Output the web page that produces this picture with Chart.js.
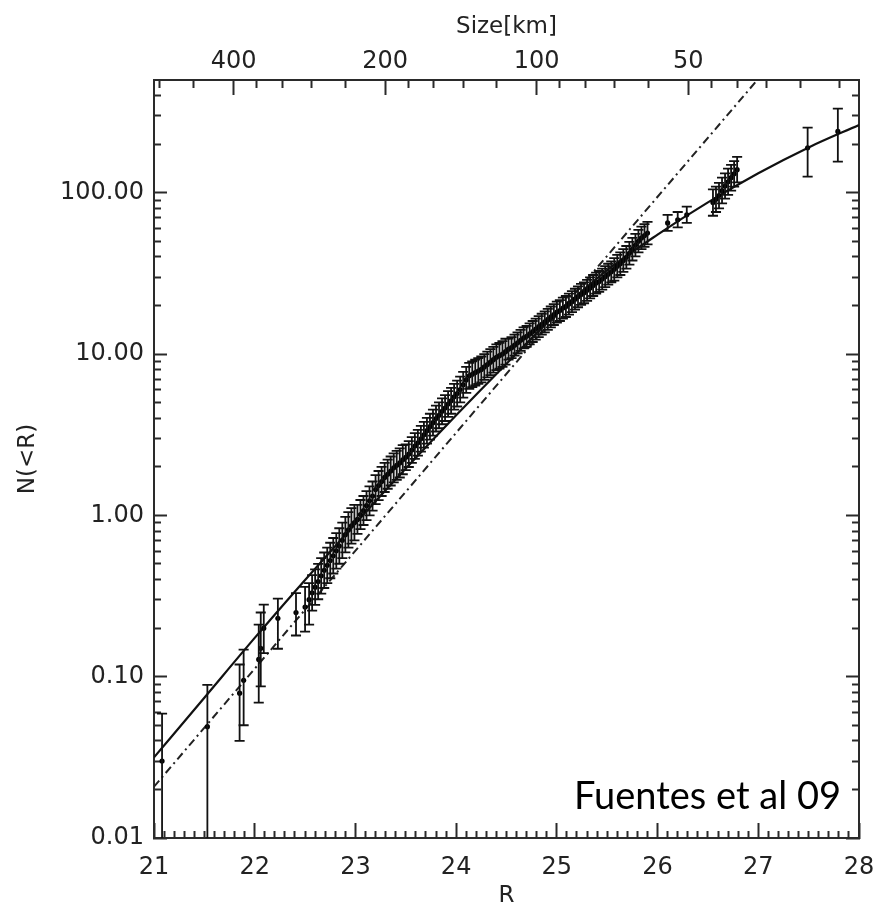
<!DOCTYPE html>
<html><head><meta charset="utf-8">
<script src="https://cdn.jsdelivr.net/npm/chart.js@4.4.1/dist/chart.umd.min.js"></script>
<style>
html,body{margin:0;padding:0;background:#fff;}
#wrap{position:relative;width:878px;height:908px;}
#note{position:absolute;right:37px;top:775px;font-family:Lato,'Open Sans',sans-serif;font-size:38px;line-height:38px;color:#000;white-space:nowrap;}
</style></head><body>
<div id="wrap"><canvas id="c" width="878" height="908"></canvas><div id="note">Fuentes et al 09</div></div>
<script>
// ---------- axis ranges & tick labels ----------
const R_MIN = 21, R_MAX = 28;
const N_MIN = 0.01, N_MAX = 500;
const xTickValues = [21, 22, 23, 24, 25, 26, 27, 28];
const xTickLabels = ['21', '22', '23', '24', '25', '26', '27', '28'];
const yTickValues = [0.01, 0.1, 1, 10, 100];
const yTickLabels = ['0.01', '0.10', '1.00', '10.00', '100.00'];
const yMinorValues = [0.02,0.03,0.04,0.05,0.06,0.07,0.08,0.09,0.2,0.3,0.4,0.5,0.6,0.7,0.8,0.9,2,3,4,5,6,7,8,9,20,30,40,50,60,70,80,90,200,300,400];
const sizeTickValues = [400, 200, 100, 50];
const sizeTickLabels = ['400', '200', '100', '50'];
const sizeMinorValues = [560, 480, 360, 320, 280, 240, 180, 160, 140, 120, 90, 80, 70, 60, 45, 40, 35, 30, 25];
const R_AT_100KM = 24.80;   // R magnitude of a 100 km object (top axis)

// ---------- bright, sparse detections (explicit error bounds) ----------
const brightR  = [21.08, 21.53, 21.85, 21.89, 22.04, 22.06, 22.09, 22.23, 22.41, 22.50, 22.54];
const brightN  = [0.030, 0.049, 0.079, 0.095, 0.128, 0.150, 0.20, 0.23, 0.25, 0.27, 0.30];
const brightLo = [0.0001, 0.0001, 0.040, 0.050, 0.069, 0.087, 0.14, 0.149, 0.18, 0.19, 0.21];
const brightHi = [0.059, 0.089, 0.119, 0.147, 0.21, 0.25, 0.28, 0.305, 0.33, 0.36, 0.38];

// ---------- dense part of the cumulative function ----------
const denseR = [22.57,22.60,22.63,22.66,22.69,22.72,22.75,22.78,22.81,22.84,22.87,22.90,22.93,22.96,22.99,
  23.02,23.05,23.08,23.11,23.14,23.17,23.20,23.23,23.26,23.29,23.32,23.35,23.38,23.41,23.44,23.47,
  23.50,23.53,23.56,23.59,23.62,23.65,23.68,23.71,23.74,23.77,23.80,23.83,23.86,23.89,23.92,23.95,23.98,
  24.01,24.04,24.07,24.10,24.13,24.16,24.19,24.22,24.25,24.28,24.31,24.34,24.37,24.40,24.43,24.46,24.49,
  24.52,24.55,24.58,24.61,24.64,24.67,24.70,24.73,24.76,24.79,24.82,24.85,24.88,24.91,24.94,24.97,
  25.00,25.03,25.06,25.09,25.12,25.15,25.18,25.21,25.24,25.27,25.30,25.33,25.36,25.39,25.42,25.45,25.48,25.51,25.54,
  25.57,25.60,25.63,25.66,25.69,25.72,25.75,25.78,25.81,25.84,25.87,25.90];
const denseN = [0.331,0.359,0.389,0.422,0.457,0.490,0.525,0.562,0.603,0.646,0.700,0.759,0.813,0.861,0.902,
  0.944,1.012,1.072,1.148,1.230,1.318,1.445,1.531,1.622,1.718,1.799,1.884,1.972,2.042,2.113,2.213,
  2.291,2.399,2.541,2.692,2.818,2.985,3.162,3.350,3.548,3.758,3.981,4.169,4.416,4.624,4.898,5.129,5.433,
  5.689,6.026,6.457,6.918,7.328,7.499,7.674,7.852,8.035,8.318,8.610,8.913,9.226,9.550,9.772,10.00,10.35,
  10.72,10.96,11.35,11.75,12.16,12.59,12.88,13.34,13.80,14.29,14.79,15.31,15.85,16.41,16.98,17.58,
  18.20,18.62,19.28,19.72,20.42,21.13,21.88,22.65,23.44,23.99,24.83,25.70,26.61,27.54,28.18,29.17,30.20,31.26,32.36,
  33.50,35.08,36.31,38.02,39.81,42.17,44.67,47.32,50.12,52.48,54.33,56.23];
// symmetric error bar half-length in dex
const denseErr = [0.11,0.11,0.11,0.11,0.11,0.11,0.11,0.11,0.11,0.11,0.11,0.11,0.11,0.11,0.11,
  0.09,0.09,0.09,0.09,0.09,0.09,0.09,0.09,0.09,0.09,0.09,0.09,0.09,0.09,0.09,0.09,
  0.08,0.08,0.08,0.08,0.08,0.08,0.08,0.08,0.08,0.08,0.08,0.08,0.08,0.08,0.08,0.08,0.08,
  0.08,0.08,0.08,0.08,0.08,0.08,0.08,0.08,0.08,0.08,0.08,0.08,0.08,0.08,0.08,0.08,0.08,
  0.065,0.065,0.065,0.065,0.065,0.065,0.065,0.065,0.065,0.065,0.065,0.065,0.065,0.065,0.065,0.065,
  0.065,0.065,0.065,0.065,0.065,0.065,0.065,0.065,0.065,0.065,0.065,0.065,0.065,0.065,0.065,0.065,0.065,0.065,0.065,
  0.07,0.07,0.07,0.07,0.07,0.07,0.07,0.07,0.07,0.07,0.07,0.07];

// ---------- faint, sparse detections (explicit error bounds) ----------
const faintR  = [26.10, 26.20, 26.29, 26.55, 26.58, 26.61, 26.64, 26.67, 26.70, 26.73, 26.76, 26.79, 27.49, 27.79];
const faintN  = [65, 68, 73, 87, 91, 96, 103, 110, 117, 124, 131, 139, 190, 240];
const faintLo = [58, 61, 65, 72, 76, 80, 86, 92, 97, 103, 109, 116, 126, 156];
const faintHi = [73, 76, 82, 105, 109, 115, 124, 132, 141, 149, 157, 167, 253, 332];

// ---------- fitted double power law (solid) ----------
const fitR = [21.0,21.5,22.0,22.5,23.0,23.5,24.0,24.5,25.0,25.5,26.0,26.5,27.0,27.5,28.0];
const fitN = [0.0316,0.0741,0.174,0.398,0.891,1.95,4.17,8.71,17.8,33.1,55.0,87.1,132,191,263];

// ---------- single power law (dash-dot) ----------
const pwlR = [21.0, 26.99];
const pwlN = [0.0208, 500];

// ---------- build chart ----------
const INK = '#222';
const LINE = '#2a2a2a';
const tickFont = {family: "'DejaVu Sans', sans-serif", size: 24};
const titleFont = {family: "'DejaVu Sans', sans-serif", size: 23, lineHeight: 1};
const CAP = 0.05;

function sizeToR(d) { return R_AT_100KM + 5 * Math.log10(100 / d); }

const xMinorValues = [];
for (let k = 210; k <= 280; k++) { if (k % 10 !== 0) xMinorValues.push(k / 10); }

const bars = [], caps = [], pts = [];
function addPoint(r, n, lo, hi) {
  bars.push({x: r, y: lo}, {x: r, y: hi}, {x: r, y: null});
  caps.push({x: r - CAP, y: hi}, {x: r + CAP, y: hi}, {x: r, y: null},
            {x: r - CAP, y: lo}, {x: r + CAP, y: lo}, {x: r, y: null});
  pts.push({x: r, y: n});
}
brightR.forEach((r, i) => addPoint(r, brightN[i], brightLo[i], brightHi[i]));
denseR.forEach((r, i) => addPoint(r, denseN[i], denseN[i] / Math.pow(10, denseErr[i]), denseN[i] * Math.pow(10, denseErr[i])));
faintR.forEach((r, i) => addPoint(r, faintN[i], faintLo[i], faintHi[i]));

function setTicks(vals) { return (a) => { a.ticks = vals.map(v => ({value: v})); }; }
function fixH(h) { return (a) => { a.height = h; a.paddingLeft = 0; a.paddingRight = 0; a.paddingTop = 0; a.paddingBottom = 0; }; }
function fixW(w) { return (a) => { a.width = w; a.paddingLeft = 0; a.paddingRight = 0; a.paddingTop = 0; a.paddingBottom = 0; }; }
const tickGrid = (len) => ({display: true, drawOnChartArea: false, drawTicks: true, tickLength: -len, tickWidth: 2, tickColor: LINE});

new Chart(document.getElementById('c'), {
  type: 'scatter',
  data: {
    datasets: [
      {data: bars, showLine: true, spanGaps: false, borderColor: '#111', borderWidth: 1.8, pointRadius: 0, xAxisID: 'x', yAxisID: 'y'},
      {data: caps, showLine: true, spanGaps: false, borderColor: '#111', borderWidth: 1.8, pointRadius: 0, xAxisID: 'x', yAxisID: 'y'},
      {data: pts, showLine: false, pointRadius: 2.6, pointBackgroundColor: '#000', pointBorderWidth: 0, xAxisID: 'x', yAxisID: 'y'},
      {data: fitR.map((r, i) => ({x: r, y: fitN[i]})), showLine: true, borderColor: '#111', borderWidth: 2.2, pointRadius: 0, cubicInterpolationMode: 'monotone', xAxisID: 'x', yAxisID: 'y'},
      {data: pwlR.map((r, i) => ({x: r, y: pwlN[i]})), showLine: true, borderColor: '#222', borderWidth: 2, borderDash: [8, 4, 2, 4], pointRadius: 0, xAxisID: 'x', yAxisID: 'y'}
    ]
  },
  options: {
    responsive: false, animation: false, devicePixelRatio: 1,
    layout: {padding: 0},
    plugins: {legend: {display: false}, tooltip: {enabled: false}},
    scales: {
      x: {type: 'linear', position: 'bottom', min: R_MIN, max: R_MAX, weight: 0,
        afterBuildTicks: setTicks(xTickValues), afterFit: fixH(70),
        ticks: {autoSkip: false, maxRotation: 0, minRotation: 0, padding: 30, font: tickFont, color: INK,
          callback: v => { const k = xTickValues.indexOf(v); return k >= 0 ? xTickLabels[k] : ''; }},
        grid: tickGrid(15), border: {display: true, color: LINE, width: 2},
        title: {display: true, text: 'R', font: titleFont, color: INK, padding: {top: 0, bottom: 0}}},
      xm: {type: 'linear', position: 'bottom', min: R_MIN, max: R_MAX, weight: -1,
        afterBuildTicks: setTicks(xMinorValues), afterFit: fixH(0),
        ticks: {display: false, autoSkip: false}, grid: tickGrid(7), border: {display: false}},
      x2: {type: 'linear', position: 'top', min: R_MIN, max: R_MAX, weight: 0,
        afterBuildTicks: setTicks(sizeTickValues.map(sizeToR)), afterFit: fixH(80),
        ticks: {autoSkip: false, maxRotation: 0, minRotation: 0, padding: 19, font: tickFont, color: INK,
          callback: (v, i) => sizeTickLabels[i]},
        grid: tickGrid(15), border: {display: true, color: LINE, width: 2},
        title: {display: true, text: 'Size[km]', font: titleFont, color: INK, padding: {top: 16, bottom: 0}}},
      x2m: {type: 'linear', position: 'top', min: R_MIN, max: R_MAX, weight: -1,
        afterBuildTicks: setTicks(sizeMinorValues.map(sizeToR)), afterFit: fixH(0),
        ticks: {display: false, autoSkip: false}, grid: tickGrid(8), border: {display: false}},
      y: {type: 'logarithmic', position: 'left', min: N_MIN, max: N_MAX, weight: 0,
        afterBuildTicks: setTicks(yTickValues), afterFit: fixW(154),
        ticks: {autoSkip: false, padding: 23, font: tickFont, color: INK,
          callback: v => { const k = yTickValues.indexOf(v); return k >= 0 ? yTickLabels[k] : ''; }},
        grid: tickGrid(13), border: {display: true, color: LINE, width: 2},
        title: {display: true, text: 'N(<R)', font: titleFont, color: INK, padding: {top: 17, bottom: 0}}},
      ym: {type: 'logarithmic', position: 'left', min: N_MIN, max: N_MAX, weight: -1,
        afterBuildTicks: setTicks(yMinorValues), afterFit: fixW(0),
        ticks: {display: false, autoSkip: false}, grid: tickGrid(7), border: {display: false}},
      y2: {type: 'logarithmic', position: 'right', min: N_MIN, max: N_MAX, weight: 0,
        afterBuildTicks: setTicks(yTickValues), afterFit: fixW(19),
        ticks: {display: false, autoSkip: false}, grid: tickGrid(13), border: {display: true, color: LINE, width: 2}},
      y2m: {type: 'logarithmic', position: 'right', min: N_MIN, max: N_MAX, weight: -1,
        afterBuildTicks: setTicks(yMinorValues), afterFit: fixW(0),
        ticks: {display: false, autoSkip: false}, grid: tickGrid(7), border: {display: false}}
    }
  }
});
</script>
</body></html>
